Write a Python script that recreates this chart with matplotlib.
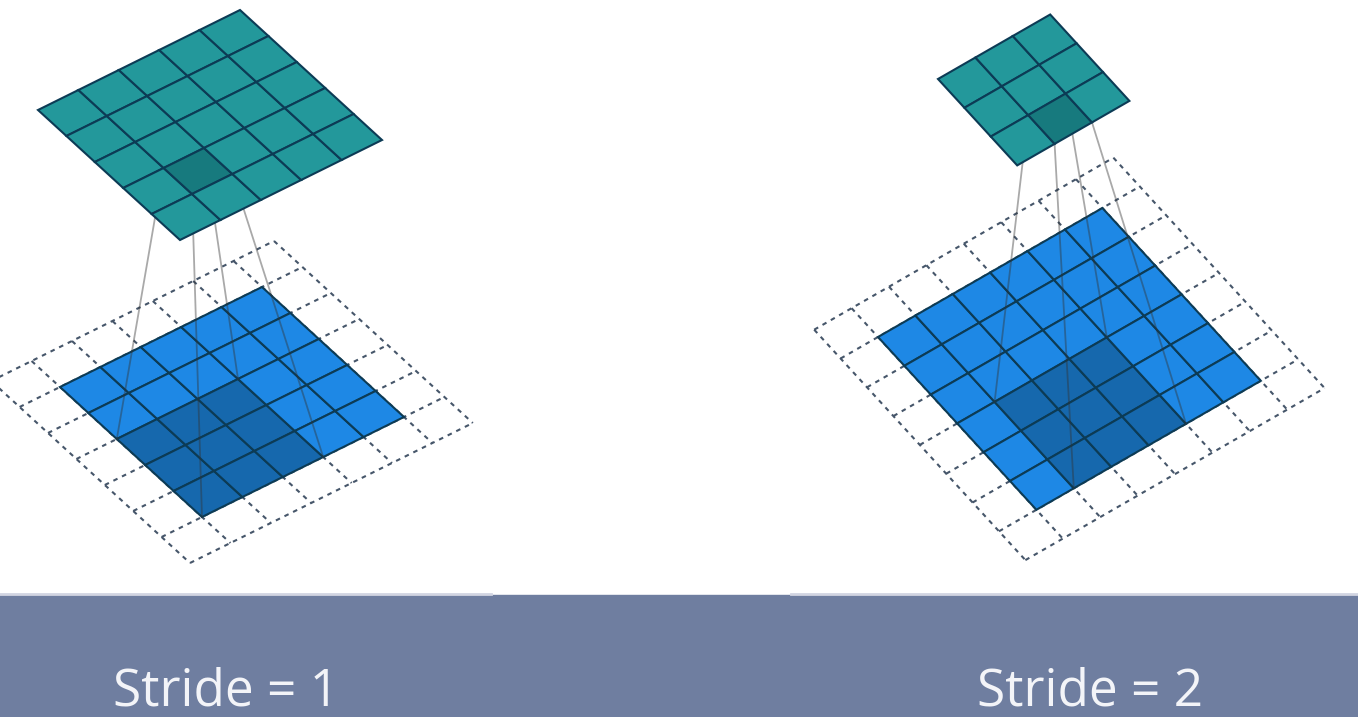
import numpy as np
import matplotlib.pyplot as plt
from matplotlib.patches import Polygon, Rectangle

# data
labels = ["Stride = 1", "Stride = 2"]
strides = [1, 2]
input_sizes = [5, 6]
paddings = [1, 1]
kernel_size = 3
highlight_out = [(1, 3), (1, 2)]   # (a, b) index of the highlighted output cell

# layout (pixels): input origin, output origin, cell step vectors a (up-right) and b (down-right)
input_origin = [(60, 387), (878, 337)]
output_origin = [(38, 110), (938, 79)]
step_a = [(40.4, -20.0), (37.4, -21.5)]
step_b = [(28.4, 26.0), (26.4, 28.8)]
label_x = [226, 1090]

W, H = 1358, 717
TEAL, TEAL_DARK = "#23989b", "#177a7e"
BLUE, BLUE_DARK = "#1e88e5", "#1668ad"
EDGE = "#0c3b55"
DASH = "#46566a"

fig = plt.figure(figsize=(W / 100, H / 100), dpi=100)
ax = fig.add_axes([0, 0, 1, 1])
ax.set_xlim(0, W)
ax.set_ylim(H, 0)
ax.axis("off")


def pt(o, a, b, i, j):
    return (o[0] + i * a[0] + j * b[0], o[1] + i * a[1] + j * b[1])


def cell(o, a, b, i, j):
    return [pt(o, a, b, i, j), pt(o, a, b, i + 1, j),
            pt(o, a, b, i + 1, j + 1), pt(o, a, b, i, j + 1)]


# bottom band and the thin light edges of the two picture areas
ax.add_patch(Rectangle((0, 595), W, H - 595, color="#6f7ea0", zorder=0))
ax.plot([0, 491], [594, 594], color="#d2d5e2", lw=2, zorder=1)
ax.plot([791, W], [594, 594], color="#d2d5e2", lw=2, zorder=1)

for k in range(2):
    n, p, s = input_sizes[k], paddings[k], strides[k]
    n_out = (n + 2 * p - kernel_size) // s + 1
    oi, oj = highlight_out[k]
    a, b = step_a[k], step_b[k]
    io, oo = input_origin[k], output_origin[k]

    # padded (dashed) grid
    for t in range(n + 2 * p + 1):
        for q0, q1 in [(pt(io, a, b, t - p, -p), pt(io, a, b, t - p, n + p)),
                       (pt(io, a, b, -p, t - p), pt(io, a, b, n + p, t - p))]:
            ax.plot([q0[0], q1[0]], [q0[1], q1[1]], color=DASH, lw=1.5,
                    ls=(0, (2.2, 2.4)), zorder=2)

    # input cells, with the kernel region darker
    si, sj = oi * s - p, oj * s - p
    for i in range(n):
        for j in range(n):
            inside = si <= i < si + kernel_size and sj <= j < sj + kernel_size
            ax.add_patch(Polygon(cell(io, a, b, i, j), closed=True,
                                 facecolor=BLUE_DARK if inside else BLUE,
                                 edgecolor=EDGE, lw=1.5, zorder=3))

    # lines joining output cell corners to kernel corners
    out_c = [(oi, oj), (oi + 1, oj), (oi + 1, oj + 1), (oi, oj + 1)]
    ker_c = [(si, sj), (si + kernel_size, sj),
             (si + kernel_size, sj + kernel_size), (si, sj + kernel_size)]
    for (ci, cj), (ki, kj) in zip(out_c, ker_c):
        q0 = pt(oo, a, b, ci, cj)
        q1 = pt(io, a, b, ki, kj)
        ax.plot([q0[0], q1[0]], [q0[1], q1[1]], color="#333333", alpha=0.42,
                lw=1.3, zorder=4)

    # output cells
    for i in range(n_out):
        for j in range(n_out):
            ax.add_patch(Polygon(cell(oo, a, b, i, j), closed=True,
                                 facecolor=TEAL_DARK if (i, j) == (oi, oj) else TEAL,
                                 edgecolor=EDGE, lw=1.5, zorder=5))

    ax.text(label_x[k], 717, labels[k], color="#f3f4f8", fontsize=37,
            family=["Open Sans", "DejaVu Sans"], ha="center", va="bottom", zorder=6)

fig.savefig("out.png", dpi=100, facecolor="white")
